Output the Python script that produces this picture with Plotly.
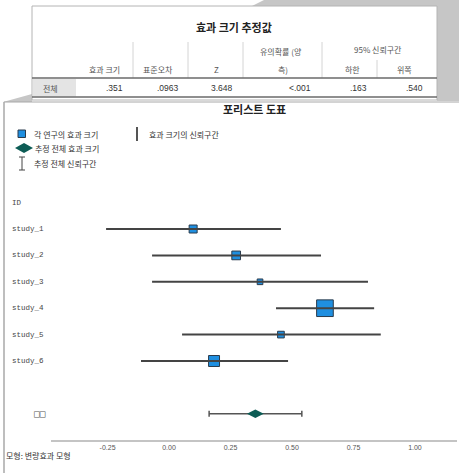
import plotly.graph_objects as go

# ---------------- data ----------------
table_title = "효과 크기 추정값"
col_headers = ["효과 크기", "표준오차", "Z", "유의확률 (양<br>측)", "하한", "위쪽"]
ci_group_header = "95% 신뢰구간"
row_label = "전체"
row_values = [".351", ".0963", "3.648", "<.001", ".163", ".540"]

plot_title = "포리스트 도표"
legend_labels = ["각 연구의 효과 크기", "효과 크기의 신뢰구간", "추정 전체 효과 크기", "추정 전체 신뢰구간"]
id_header = "ID"
study_ids = ["study_1", "study_2", "study_3", "study_4", "study_5", "study_6"]
effects = [0.098, 0.273, 0.370, 0.634, 0.455, 0.183]
lower = [-0.256, -0.069, -0.069, 0.435, 0.053, -0.114]
upper = [0.455, 0.618, 0.809, 0.834, 0.861, 0.484]
weights = [10.4, 12.3, 5.2, 45.2, 7.3, 19.6]
overall_label = "□□"
overall_est = 0.351
overall_lower = 0.163
overall_upper = 0.540
tick_vals = [-0.25, 0.0, 0.25, 0.50, 0.75, 1.00]
footer = "모형: 변량효과 모형"

# ---------------- layout helpers ----------------
W, H = 459, 473
KR = "Noto Sans CJK KR"
MONO = "Liberation Mono"


def px(x):
    return x / W


def py(y):
    return 1 - y / H


annotations = []
shapes = []


def text(x, y, s, size=8, color="#333333", xanchor="left", bold=False, family=KR):
    annotations.append(dict(
        x=px(x), y=py(y), xref="paper", yref="paper", text=(f"<b>{s}</b>" if bold else s),
        showarrow=False, xanchor=xanchor, yanchor="middle",
        font=dict(size=size, color=color, family=family), borderpad=0))


def line(x0, y0, x1, y1, color="#999999", width=1):
    shapes.append(dict(type="line", xref="paper", yref="paper", x0=px(x0), y0=py(y0),
                       x1=px(x1), y1=py(y1), line=dict(color=color, width=width)))


def rect(x0, y0, x1, y1, fill, lc=None, lw=0):
    shapes.append(dict(type="rect", xref="paper", yref="paper", x0=px(x0), y0=py(y0),
                       x1=px(x1), y1=py(y1), fillcolor=fill,
                       line=dict(color=lc or fill, width=lw), layer="below"))


def poly(pts, fill, layer="below"):
    p = "M " + " L ".join(f"{px(a):.5f},{py(b):.5f}" for a, b in pts) + " Z"
    shapes.append(dict(type="path", xref="paper", yref="paper", path=p, fillcolor=fill,
                       line=dict(width=0), layer=layer))


# ---------------- background (screenshot frame) ----------------
GRAY = "#c6c6c6"
poly([(264, 0), (459, 0), (459, 101), (437, 101), (437, 6), (252, 6)], GRAY)
poly([(3, 102), (32, 94), (32, 102)], GRAY)
line(4, 102, 459, 102, "#a8a8a8", 1)
line(4, 102, 4, 473, "#a8a8a8", 1.5)

# ---------------- table ----------------
rect(32, 6, 437, 100, "white", "#b4b4b4", 1)
text(234, 27, table_title, size=11, color="#222222", xanchor="center", bold=True)
for xv in [133, 188, 243, 322]:
    line(xv, 42, xv, 78, "#d4d4d4", 1)
line(377, 60, 377, 78, "#d4d4d4", 1)
rect(33, 79, 76, 96.5, "#e4e4e4")
line(32, 78, 437, 78, "#6a6a6a", 1.5)
line(32, 97, 437, 97, "#6a6a6a", 1.5)
hdr_centers = [104, 158, 216, 281, 352, 404]
for cx, h in zip(hdr_centers, col_headers):
    if "<br>" in h:
        a, b = h.split("<br>")
        text(cx, 51, a, size=8, color="#555555", xanchor="center")
        text(cx + 2, 69, b, size=8, color="#555555", xanchor="center")
    else:
        text(cx, 69, h, size=8, color="#555555", xanchor="center")
text(378, 50, ci_group_header, size=8, color="#555555", xanchor="center")
text(42, 88, row_label, size=8, color="#555555")
val_right = [124, 180, 234, 312, 368, 424]
for rx, v in zip(val_right, row_values):
    text(rx, 88, v, size=8.5, color="#333333", xanchor="right", family="Liberation Sans")

# ---------------- forest plot texts & legend ----------------
text(254, 109, plot_title, size=11, color="#222222", xanchor="center", bold=True)
BLUE = "#1f8fe0"
TEAL = "#0d5c55"
rect(18, 130, 25.5, 137.5, BLUE, "#2a3b4c", 1)
text(33, 134, legend_labels[0], size=8, color="#333333")
line(137, 127, 137, 141, "#555555", 2)
text(148, 134, legend_labels[1], size=8, color="#333333")
poly([(15, 148), (24, 143), (33, 148), (24, 153)], TEAL, layer="above")
text(34, 148, legend_labels[2], size=8, color="#333333")
line(22, 157, 22, 170, "#444444", 1)
line(19, 157, 25, 157, "#444444", 1)
line(19, 170, 25, 170, "#444444", 1)
text(33, 163, legend_labels[3], size=8, color="#333333")

# row positions (index-based)
rows = list(range(1, len(study_ids) + 1))
overall_row = len(study_ids) + 2
annotations.append(dict(x=px(10), y=0, xref="paper", yref="y", text=id_header, showarrow=False,
                        xanchor="left", yanchor="middle", font=dict(size=7.5, family=MONO, color="#444444")))
for r, s in zip(rows, study_ids):
    annotations.append(dict(x=px(10), y=r, xref="paper", yref="y", text=s, showarrow=False,
                            xanchor="left", yanchor="middle",
                            font=dict(size=7.5, family=MONO, color="#444444")))
annotations.append(dict(x=px(48), y=overall_row, xref="paper", yref="y", text=overall_label,
                        showarrow=False, xanchor="right", yanchor="middle",
                        font=dict(size=9.5, family="DejaVu Sans Mono", color="#555555")))
text(5, 455, footer, size=8, color="#333333")

fig = go.Figure()
sizes = [2.48 * (w ** 0.5) for w in weights]
fig.add_trace(go.Scatter(
    x=effects, y=rows, mode="markers",
    marker=dict(symbol="square", size=sizes, color=BLUE, opacity=1,
                line=dict(color="#2a3b4c", width=1)),
    hoverinfo="skip"))
fig.add_trace(go.Scatter(
    x=effects, y=rows, mode="markers",
    marker=dict(size=1, color="rgba(0,0,0,0)"),
    error_x=dict(type="data", symmetric=False,
                 array=[u - e for u, e in zip(upper, effects)],
                 arrayminus=[e - l for e, l in zip(effects, lower)],
                 width=0, thickness=2, color="#444444"),
    hoverinfo="skip"))
fig.add_trace(go.Scatter(
    x=[overall_est], y=[overall_row], mode="markers",
    marker=dict(symbol="diamond-wide", size=12, color=TEAL, line=dict(width=0)),
    error_x=dict(type="data", symmetric=False, array=[overall_upper - overall_est],
                 arrayminus=[overall_est - overall_lower], width=3, thickness=1.5, color="#555555"),
    hoverinfo="skip"))

# pixel mapping: row i -> y_px = 229 + 26.4*(i-1)
step = 26.4
y0px = 229 - step  # row 0 (ID)
ytop = (0 - y0px) / step
ybot = (440 - y0px) / step

fig.update_layout(
    width=W, height=H, margin=dict(l=0, r=0, t=0, b=0),
    paper_bgcolor="white", plot_bgcolor="white", showlegend=False,
    xaxis=dict(domain=[px(51), px(457)], range=[-0.48, 1.171], showgrid=False, zeroline=False,
               showline=True, linecolor="#c4c4c4", linewidth=2, ticks="",
               tickvals=tick_vals, ticktext=[f"{v:.2f}" for v in tick_vals],
               tickfont=dict(size=7, color="#555555", family="Liberation Sans")),
    yaxis=dict(domain=[1 - 440 / H, 1], range=[ybot, ytop], showgrid=False, zeroline=False,
               showline=False, showticklabels=False),
    annotations=annotations, shapes=shapes,
)

fig.write_html("out.html", config={"displayModeBar": False},
               post_script="document.body.style.margin='0';document.body.style.padding='0';")
